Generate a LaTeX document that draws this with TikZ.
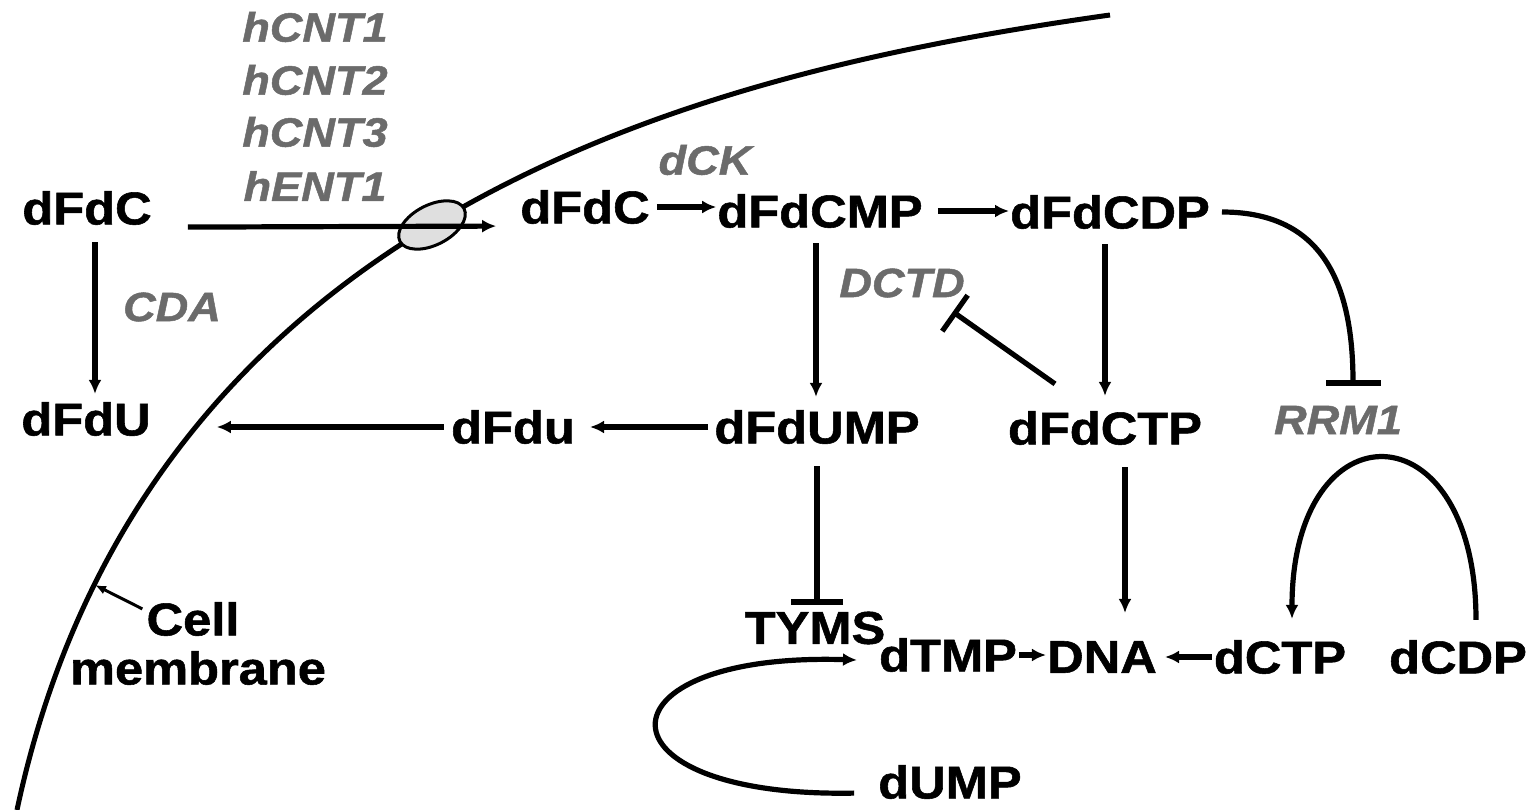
\documentclass[tikz,border=0pt]{standalone}
\usepackage{fontspec}
\setmainfont{Liberation Sans}[FakeStretch=1.1]
\newfontfamily\heavyfont{Liberation Sans}[FakeStretch=1.1,FakeBold=1.2]
\usetikzlibrary{arrows.meta,calc,shapes.geometric}
\definecolor{enzgray}{gray}{0.42}
\begin{document}
\begin{tikzpicture}[x=1pt,y=-1pt,
  mol/.style={inner sep=0pt, font=\heavyfont\fontsize{46}{50}\selectfont\bfseries},
  enz/.style={inner sep=0pt, text=enzgray, font=\heavyfont\fontsize{41}{46}\selectfont\bfseries\itshape},
  arr/.style={line width=5.2pt, -{Latex[length=14pt,width=13pt]}},
  inh/.style={line width=5.2pt, -{Bar[width=#1]}},
  inh/.default=52pt,
  memline/.style={line width=5pt}]
\useasboundingbox (0,0) rectangle (1537,810);
% membrane
\draw[memline] (1110,15) .. controls (860,50) and (629,106) .. (432,225)
  .. controls (209,359) and (71,556) .. (17,810);
\node[draw, line width=3pt, fill=gray!25, ellipse, minimum width=72pt, minimum height=40pt, rotate=27, inner sep=0pt] (channel) at (432,225) {};
\coordinate (mem) at (95,585);
% nodes
\node[mol] (dFdCo) at (87,208) {dFdC};
\node[enz] (hCNT1) at (315,27) {hCNT1};
\node[enz] (hCNT2) at (315,80) {hCNT2};
\node[enz] (hCNT3) at (315,132) {hCNT3};
\node[enz] (hENT1) at (315,186) {hENT1};
\node[mol] (dFdCi) at (585,207) {dFdC};
\node[enz] (dCK) at (705,160) {dCK};
\node[mol] (dFdCMP) at (820,211) {dFdCMP};
\node[mol] (dFdCDP) at (1110,212) {dFdCDP};
\node[enz] (DCTD) at (902,283) {DCTD};
\node[enz] (CDA) at (172,307) {CDA};
\node[mol] (dFdU) at (86,419) {dFdU};
\node[mol] (dFdu) at (513,427) {dFdu};
\node[mol] (dFdUMP) at (817,427) {dFdUMP};
\node[mol] (dFdCTP) at (1105,428) {dFdCTP};
\node[enz] (RRM1) at (1338,420) {RRM1};
\node[mol] (TYMS) at (815,628) {TYMS};
\node[mol] (dTMP) at (948,655) {dTMP};
\node[mol] (DNA) at (1102,657) {DNA};
\node[mol] (dCTP) at (1280,657) {dCTP};
\node[mol] (dCDP) at (1458,657) {dCDP};
\node[mol] (dUMP) at (950,782) {dUMP};
\node[mol] (Cell) at (193,619) {Cell};
\node[mol] (membrane) at (198,668) {membrane};
% connectors
\draw[arr] ([xshift=36pt,yshift=-2pt]dFdCo.south east) -- ([xshift=-24pt,yshift=-2pt]dFdCi.south west);
\draw[arr, shorten <=7pt, shorten >=1pt] (dFdCi.east) -- (dFdCi.east -| dFdCMP.west);
\draw[arr, shorten <=15pt, shorten >=1pt] (dFdCMP.east) -- (dFdCMP.east -| dFdCDP.west);
\draw[arr, shorten <=15pt, shorten >=13pt] ([xshift=-4pt]dFdCMP.south) -- ([xshift=-4pt]dFdCMP.south |- dFdUMP.north);
\draw[arr, shorten <=15pt, shorten >=15pt] (dFdCTP.north |- dFdCDP.south) -- (dFdCTP.north);
\draw[arr, shorten <=22pt, shorten >=28pt] ([xshift=20pt]dFdCTP.south) -- ([xshift=20pt]dFdCTP.south |- DNA.north);
\draw[arr, shorten <=6pt, shorten >=15pt] (dFdUMP.west) -- (dFdUMP.west -| dFdu.east);
\draw[arr, shorten <=7pt, shorten >=66pt] (dFdu.west) -- (dFdu.west -| dFdU.east);
\draw[arr, shorten <=17pt, shorten >=8pt] ([xshift=8pt]dFdCo.south) -- ([xshift=8pt]dFdCo.south |- dFdU.north);
\draw[inh, shorten <=22pt, shorten >=7pt] (dFdUMP.south) -- (dFdUMP.south |- TYMS.north);
\draw[inh=44pt] ([shift={(-50,-27)}]dFdCTP.north) -- ([shift={(-12,14)}]DCTD.south east);
\draw[inh=55pt] ([xshift=12pt]dFdCDP.east) .. controls +(95,0) and +(0,-110) .. ([shift={(15,-20)}]RRM1.north);
\draw[arr] ([shift={(18,-20)}]dCDP.north) .. controls +(0,-215) and +(0,-215) .. ([shift={(12,-21)}]dCTP.north);
\draw[arr, shorten <=2pt, shorten >=1pt] (dTMP.east) -- (dTMP.east -| DNA.west);
\draw[arr, shorten <=2pt, shorten >=8pt] (dCTP.west) -- (dCTP.west -| DNA.east);
\draw[arr] ([shift={(-24,-6)}]dUMP.south west) .. controls +(-265,5) and +(-265,-8) .. ([shift={(-22,5)}]dTMP.west);
\draw[line width=3pt, -{Latex[length=11pt,width=9pt]}] ([shift={(-4,7)}]Cell.north west) -- (mem);
\end{tikzpicture}
\end{document}
